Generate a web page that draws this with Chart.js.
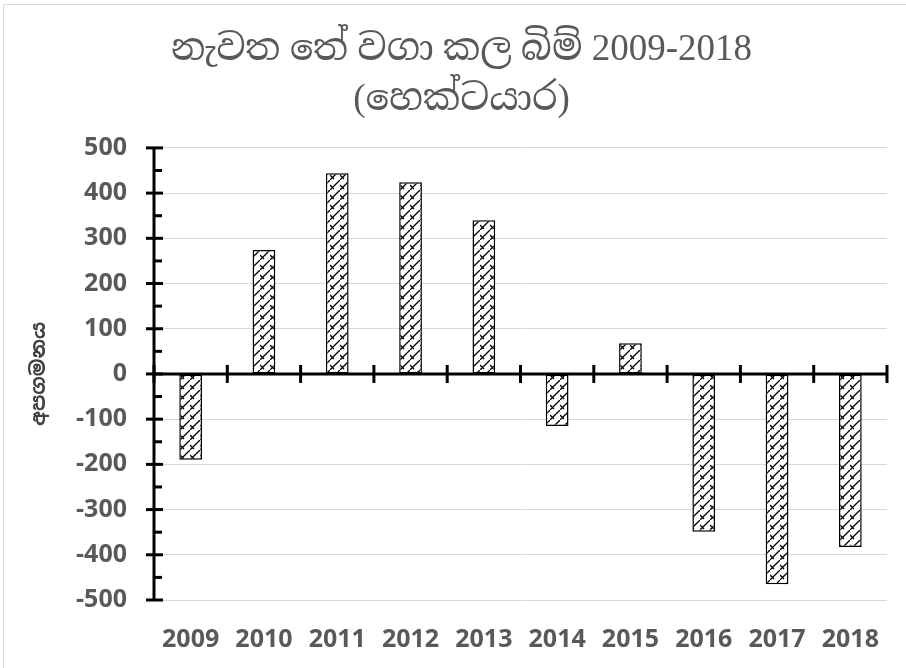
<!DOCTYPE html>
<html>
<head>
<meta charset="utf-8">
<script src="https://cdn.jsdelivr.net/npm/chart.js@4.4.0/dist/chart.umd.min.js"></script>
<style>
  html, body { margin: 0; padding: 0; background: #fff; }
  #wrap { position: relative; width: 906px; height: 668px; overflow: hidden; }
  #frame { position: absolute; left: 3px; top: 4px; width: 920px; height: 700px; border: 1px solid #d9d9d9; }
  canvas { position: absolute; left: 0; top: 0; }
</style>
</head>
<body>
<div id="wrap">
  <div id="frame"></div>
  <canvas id="chart" width="906" height="668" style="width:906px;height:668px"></canvas>
</div>
<script>
// years on the x axis
const years = ['2009', '2010', '2011', '2012', '2013', '2014', '2015', '2016', '2017', '2018'];
// deviation (hectares)
const deviation = [-190, 274, 444, 424, 340, -115, 68, -349, -465, -383];
const yMin = -500, yMax = 500, yStep = 100;

const titleLines = ['නැවත තේ වගා කල බිම් 2009-2018', '(හෙක්ටයාර)'];
const yTitle = 'අපගමනය';

const labelFont = "'Open Sans', 'Liberation Sans', sans-serif";
const sinhalaSerif = "'Liberation Serif', 'Noto Serif Sinhala', 'Noto Sans Sinhala', serif";

// hatch fill like the excel pattern
function makeHatch() {
  const c = document.createElement('canvas');
  c.width = 10; c.height = 10;
  const g = c.getContext('2d');
  g.fillStyle = '#fff';
  g.fillRect(0, 0, 10, 10);
  g.strokeStyle = '#000';
  g.lineWidth = 1.3;
  g.beginPath();
  g.moveTo(-1, 11); g.lineTo(11, -1);
  g.moveTo(0, 5); g.lineTo(4, 9);
  g.stroke();
  return g.createPattern(c, 'repeat');
}

const axesPlugin = {
  id: 'axes',
  afterDatasetsDraw(chart) {
    const { ctx, chartArea: a, scales: { x, y } } = chart;
    const line = (x1, y1, x2, y2) => { ctx.beginPath(); ctx.moveTo(x1, y1); ctx.lineTo(x2, y2); ctx.stroke(); };
    ctx.save();
    ctx.strokeStyle = '#000';
    ctx.lineWidth = 3;
    // vertical axis
    line(a.left, y.getPixelForValue(yMax) - 1, a.left, y.getPixelForValue(yMin) + 1);
    y.ticks.forEach(t => {
      const py = y.getPixelForValue(t.value);
      line(a.left - 8, py, a.left + 9, py);
    });
    for (let v = yMin + yStep / 2; v < yMax; v += yStep) {
      const py = y.getPixelForValue(v);
      line(a.left, py, a.left + 8, py);
    }
    // horizontal axis at zero
    const y0 = y.getPixelForValue(0);
    line(a.left, y0, a.right, y0);
    for (let i = 0; i <= years.length; i++) {
      let px;
      if (i === 0) px = a.left;
      else if (i === years.length) px = a.right;
      else px = (x.getPixelForValue(i - 1) + x.getPixelForValue(i)) / 2;
      line(px, y0 - 9, px, y0 + 9);
    }
    ctx.restore();
  }
};

const ctx = document.getElementById('chart').getContext('2d');
new Chart(ctx, {
  type: 'bar',
  data: {
    labels: years,
    datasets: [{
      data: deviation,
      backgroundColor: makeHatch(),
      borderColor: '#000',
      borderWidth: 1.5,
      borderSkipped: false,
      barPercentage: 0.31,
      categoryPercentage: 1
    }]
  },
  options: {
    responsive: false,
    animation: false,
    devicePixelRatio: 1,
    layout: { padding: { left: 36, right: 19, top: 0, bottom: 0 } },
    plugins: {
      legend: { display: false },
      tooltip: { enabled: false },
      title: {
        display: true,
        text: titleLines,
        color: '#595959',
        font: { family: sinhalaSerif, size: 37, weight: 'normal', lineHeight: 1.35 },
        padding: { top: 25, bottom: 23 }
      }
    },
    scales: {
      x: {
        grid: { display: false },
        border: { display: false },
        ticks: {
          color: '#595959',
          font: { family: labelFont, size: 25, weight: 'bold' },
          padding: 17,
          maxRotation: 0
        },
        afterFit(scale) { scale.height = 68; }
      },
      y: {
        min: yMin,
        max: yMax,
        grid: { color: '#d9d9d9', lineWidth: 1, drawTicks: false },
        border: { display: false },
        ticks: {
          stepSize: yStep,
          color: '#595959',
          font: { family: labelFont, size: 25, weight: 'bold' },
          padding: 27
        },
        title: {
          display: true,
          text: yTitle,
          color: '#404040',
          font: { family: "'Noto Sans Sinhala', 'Noto Sans', sans-serif", size: 20, weight: 'bold' },
          padding: { top: -9, bottom: 0 }
        },
        afterFit(scale) { scale.width = 118; }
      }
    }
  },
  plugins: [axesPlugin]
});
</script>
</body>
</html>
